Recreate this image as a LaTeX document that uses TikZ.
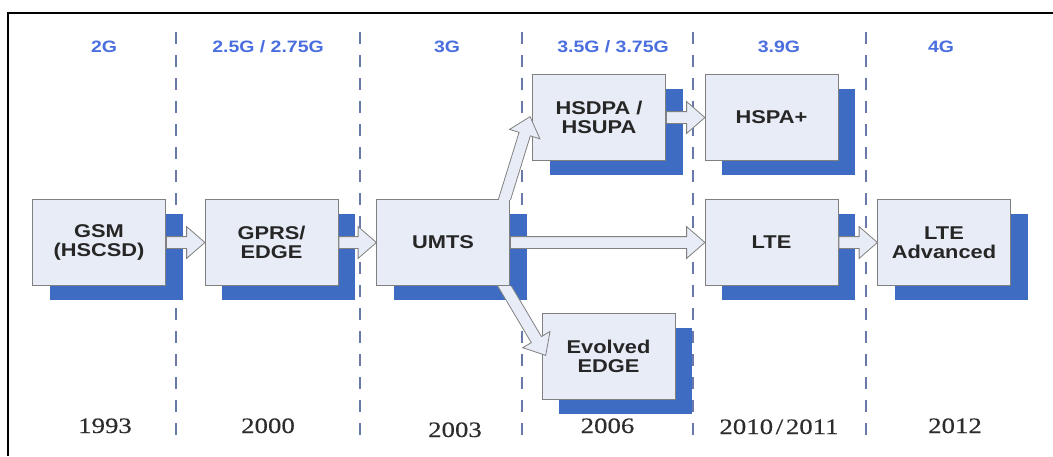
\documentclass[tikz,border=0pt]{standalone}
\usepackage{fontspec}
\setmainfont{Liberation Sans}
\newfontfamily\widesans[FakeStretch=1.18]{Liberation Sans}
\newfontfamily\yearfont[FakeStretch=1.22,FakeBold=0.4]{Liberation Serif}
\usetikzlibrary{shapes.arrows,shadows,calc}

\definecolor{boxfill}{RGB}{232,236,246}
\definecolor{boxline}{RGB}{128,128,128}
\definecolor{shadowblue}{RGB}{62,108,194}
\definecolor{genblue}{RGB}{74,110,222}
\definecolor{divider}{RGB}{105,122,170}
\definecolor{labeltext}{RGB}{38,38,38}
\definecolor{yeartext}{RGB}{45,45,45}

\tikzset{
  tech/.style={draw=boxline, line width=1pt, fill=boxfill,
    minimum width=133pt, minimum height=86pt, inner sep=0pt, align=center,
    font=\widesans\fontsize{18.5}{18.5}\selectfont\bfseries, text=labeltext,
    drop shadow={shadow xshift=17pt, shadow yshift=-14pt, fill=shadowblue, opacity=1}},
  gen/.style={anchor=base, font=\widesans\fontsize{16.5}{20}\selectfont\bfseries, text=genblue},
  yearlabel/.style={anchor=base, font=\yearfont\fontsize{22}{22}\selectfont, text=yeartext},
  divline/.style={draw=divider, line width=2pt, dash pattern=on 12pt off 11pt},
  barrow/.style={single arrow, draw=boxline, fill=boxfill, line width=0.8pt,
    inner sep=0pt, inner ysep=5.5pt, single arrow head extend=10pt,
    single arrow tip angle=82, anchor=tail},
}

% hollow block arrow from #1 (tail) to #2 (tip)
\newcommand\blockarrow[2]{%
  \path let \p1=(#1), \p2=(#2),
    \n1={atan2(\y2-\y1,\x2-\x1)}, \n2={veclen(\x2-\x1,\y2-\y1)} in
    node[barrow, minimum height=\n2, rotate=\n1] at (\p1) {};}

\begin{document}
\begin{tikzpicture}[x=1pt,y=-1pt]
\useasboundingbox (0,0) rectangle (1053,456);

% frame
\draw[line width=2pt] (8,456) -- (8,13) -- (1053,13);

% era dividers
\foreach \x in {176,360,521.5,693,866}
  \draw[divline] (\x,32) -- (\x,444);

% generations
\node[gen] (g2)   at (104,52) {2G};
\node[gen] (g25)  at (268,52) {2.5G / 2.75G};
\node[gen] (g3)   at (447,52) {3G};
\node[gen] (g35)  at (613,52) {3.5G / 3.75G};
\node[gen] (g39)  at (779,52) {3.9G};
\node[gen] (g4)   at (941,52) {4G};

% years
\node[yearlabel] (y1) at (105,433) {1993};
\node[yearlabel] (y2) at (268,433) {2000};
\node[yearlabel] (y3) at (455,437) {2003};
\node[yearlabel] (y4) at (607.5,433) {2006};
\node[yearlabel] (y5) at (779,434) {2010\hspace{0.12em}/\hspace{0.12em}2011};
\node[yearlabel] (y6) at (955,433) {2012};

% technologies
\node[tech] (gsm)   at (99,242.5)    {GSM\\(HSCSD)};
\node[tech] (gprs)  at (271.5,242.5) {GPRS/\\EDGE};
\node[tech] (umts)  at (443,242.5)   {UMTS};
\node[tech] (lte)   at (771.5,242.5) {LTE};
\node[tech] (ltea)  at (944,242.5)   {LTE\\Advanced};
\node[tech] (hsdpa) at (599,117.5)   {HSDPA /\\HSUPA};
\node[tech] (hspa)  at (771.5,117.5) {HSPA+};
\node[tech] (eedge) at (608.5,356.5) {Evolved\\EDGE};

% evolution paths
\blockarrow{gsm.east}{gprs.west}
\blockarrow{gprs.east}{umts.west}
\blockarrow{umts.east}{lte.west}
\blockarrow{lte.east}{ltea.west}
\blockarrow{hsdpa.east}{hspa.west}
% the branches leave UMTS through its top and bottom edges
\begin{scope}
  \clip (umts.north west) ++(-400,0) rectangle ++(1000,-300);
  \blockarrow{$(umts.north east)+(-10,15)$}{$(hsdpa.north west)+(-2,43)$}
\end{scope}
\begin{scope}
  \clip (umts.south west) ++(-400,0) rectangle ++(1000,300);
  \blockarrow{$(umts.south east)+(-12,-11)$}{$(eedge.north west)+(4,42)$}
\end{scope}
\end{tikzpicture}
\end{document}
